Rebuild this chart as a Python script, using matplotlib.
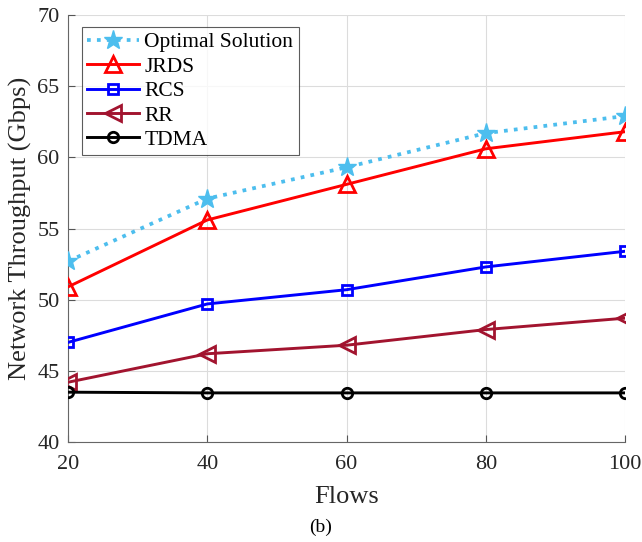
import matplotlib
matplotlib.use("Agg")
import matplotlib.pyplot as plt

flows = [20, 40, 60, 80, 100]
optimal = [52.7, 57.1, 59.3, 61.7, 62.9]
jrds = [50.9, 55.6, 58.1, 60.6, 61.8]
rcs = [47.0, 49.7, 50.7, 52.3, 53.4]
rr = [44.2, 46.2, 46.8, 47.9, 48.7]
tdma = [43.5, 43.45, 43.45, 43.45, 43.45]

plt.rcParams['font.family'] = ['Liberation Serif', 'DejaVu Serif']
plt.rcParams['mathtext.fontset'] = 'stix'

fig = plt.figure(figsize=(6.42, 5.42), dpi=100)
ax = fig.add_axes([0.106, 0.1845, 0.8675, 0.7878])

lw = 2.1
ax.plot(flows, optimal, ':', color='#4DBEEE', lw=lw + 0.6, marker='*',
        markersize=14, markerfacecolor='#4DBEEE', markeredgecolor='#4DBEEE',
        label='Optimal Solution', zorder=5)
ax.plot(flows, jrds, '-', color='#FF0000', lw=lw, marker='^', markersize=11,
        markerfacecolor='none', markeredgewidth=2, label='JRDS', zorder=4)
ax.plot(flows, rcs, '-', color='#0000FF', lw=lw, marker='s', markersize=7,
        markerfacecolor='none', markeredgewidth=2, label='RCS', zorder=4)
ax.plot(flows, rr, '-', color='#A2142F', lw=lw, marker='<', markersize=11,
        markerfacecolor='none', markeredgewidth=2, label='RR', zorder=4)
ax.plot(flows, tdma, '-', color='black', lw=lw, marker='o', markersize=7.5,
        markerfacecolor='none', markeredgewidth=2, label='TDMA', zorder=4)

ax.set_xlim(20, 100)
ax.set_ylim(40, 70)
ax.set_xticks(flows)
ax.set_yticks(range(40, 71, 5))
ax.grid(True, color='#DCDCDC', lw=0.8)
ax.set_axisbelow(True)
for s in ['top', 'right']:
    ax.spines[s].set_visible(False)
for s in ['left', 'bottom']:
    ax.spines[s].set_color('#666666')
ax.tick_params(direction='in', labelsize=16, colors='#555555',
               labelcolor='#262626', length=5)
ax.tick_params(axis='x', pad=9)
ax.tick_params(axis='y', pad=6)

ax.set_xlabel('Flows', fontsize=19, color='#262626', labelpad=9)
ax.set_ylabel('Network Throughput (Gbps)', fontsize=19, color='#262626',
              labelpad=4)

leg = ax.legend(loc='upper left', bbox_to_anchor=(0.025, 0.972), fontsize=15.5,
                frameon=True, fancybox=False, edgecolor='#333333',
                handlelength=2.4, handletextpad=0.25, labelspacing=0.2,
                borderpad=0.25, borderaxespad=0.0)
leg.get_frame().set_linewidth(0.8)

fig.text(0.5, 1 - 527 / 542, '(b)', ha='center', va='center', fontsize=14)

fig.savefig('out.png', dpi=100)
